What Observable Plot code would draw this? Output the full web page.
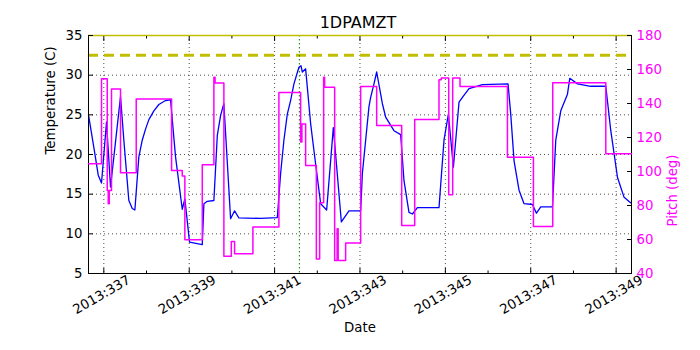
<!DOCTYPE html>
<html><head><meta charset="utf-8">
<script src="https://cdn.jsdelivr.net/npm/d3@7"></script>
<script src="https://cdn.jsdelivr.net/npm/@observablehq/plot@0.6"></script>
<style>
body{margin:0;background:#fff;}
#wrap{position:relative;width:700px;height:350px;font-family:"DejaVu Sans",sans-serif;overflow:hidden;}
#wrap svg{position:absolute;left:0;top:0;}
#title{position:absolute;left:258px;width:200px;top:13px;text-align:center;font-size:16px;line-height:normal;color:#000;z-index:5;}
</style></head>
<body>
<div id="wrap"><div id="title">1DPAMZT</div></div>
<script>
// ---- data ----
const tempDays = [336.641,336.766,336.869,336.946,337.063,337.157,337.391,337.469,337.586,337.666,337.727,337.820,337.900,337.977,338.055,338.172,338.289,338.446,338.563,338.680,338.837,338.898,339.008,339.306,339.344,339.423,339.578,339.658,339.735,339.789,339.812,339.969,340.063,340.164,340.672,341.064,341.141,341.218,341.298,341.375,341.453,341.570,341.617,341.650,341.727,341.844,341.961,342.079,342.219,342.376,342.564,342.742,343.016,343.056,343.133,343.210,343.250,343.328,343.391,343.525,343.602,343.796,343.953,344.031,344.148,344.228,344.345,344.851,344.968,345.071,345.188,345.320,345.399,345.554,345.868,346.468,346.531,346.609,346.726,346.843,347.040,347.134,347.234,347.509,347.586,347.703,347.860,347.914,348.095,348.406,348.758,348.875,349.032,349.187,349.344];
const tempValues = [25.0,20.9,17.4,16.4,24.1,15.9,27.3,21.8,14.2,13.2,13.0,19.7,21.8,23.2,24.4,25.5,26.3,26.8,26.9,19.7,13.1,14.4,8.95,8.65,13.8,14.1,14.2,22.4,24.9,26.0,26.4,11.9,12.9,12.0,11.95,12.05,17.6,21.8,25.1,26.8,28.9,31.0,31.2,30.4,30.8,23.9,18.8,13.8,13.0,23.4,11.5,12.9,12.9,17.6,21.8,26.0,27.2,28.9,30.4,26.4,24.7,23.0,22.5,16.7,12.7,12.5,13.3,13.3,21.8,25.1,18.4,26.6,27.2,28.3,28.8,28.9,25.1,19.2,15.5,13.8,13.7,12.6,13.4,13.4,21.8,25.5,27.6,29.6,28.9,28.6,28.6,23.0,17.1,14.6,13.9];

const pitchDays = [336.641,336.946,337.080,337.103,337.127,337.180,337.391,337.759,338.587,338.837,338.898,339.306,339.578,339.606,339.812,339.986,340.063,340.492,341.101,341.610,341.640,341.727,341.978,342.055,342.149,342.172,342.407,342.465,342.489,342.664,343.016,343.391,343.977,344.282,344.851,344.903,345.079,345.172,345.343,346.454,347.063,347.515,348.758,349.36];
const pitchValues = [104.5,154.5,88.8,81,88.8,148.6,99.2,142.7,100.6,97.3,59.8,103.9,155.5,152,50.2,58.8,51.6,67.3,146.5,117.3,128,103.5,48.6,81.6,155.5,149.6,47.6,66.3,47.6,58,150,127,68.2,130.6,154,155,86.3,155,150,108.4,67.6,152.2,110.4,110.4];

const majorDays = [337,339,341,343,345,347,349];
const minorDays = [338,340,342,344,346,348];
const tempTicks = [5,10,15,20,25,30,35];
const pitchTicks = [40,60,80,100,120,140,160,180];
const tempLimitDashed = 32.5;
const tempLimitSolid = 35;
const eventDay = 341.58;
const xDomain = [336.641, 349.36];

const tempData = tempDays.map((d,i)=>({day:d, temp:tempValues[i]}));
const pitchData = pitchDays.map((d,i)=>({day:d, pitch:pitchValues[i]}));

const common = {
  width:700, height:350, marginLeft:88, marginRight:69, marginTop:35, marginBottom:77,
  style:{fontFamily:"DejaVu Sans, sans-serif", fontSize:"13.3px", background:"transparent", overflow:"visible"}
};

const plotA = Plot.plot({
  ...common,
  x:{domain:xDomain, axis:null},
  y:{domain:[5,35], axis:null},
  marks:[
    Plot.gridX(majorDays, {stroke:"black", strokeOpacity:1, strokeWidth:0.7, strokeDasharray:"1,3"}),
    Plot.gridY(tempTicks, {stroke:"black", strokeOpacity:1, strokeWidth:0.7, strokeDasharray:"1,3"}),
    Plot.ruleY([tempLimitDashed], {stroke:"#bfbf00", strokeWidth:3, strokeDasharray:"10,6"}),
    Plot.ruleX([eventDay], {stroke:"#008000", strokeWidth:1, strokeDasharray:"1.5,2.5"}),
    Plot.line(tempData, {x:"day", y:"temp", stroke:"#0000ff", strokeWidth:1.3}),
    Plot.frame({stroke:"black"}),
    Plot.ruleY([tempLimitSolid], {stroke:"#bfbf00", strokeWidth:1.5}),
    Plot.axisX({ticks:majorDays, anchor:"bottom", tickSize:-5, tickFormat:()=>"", label:null}),
    Plot.axisX({ticks:minorDays, anchor:"bottom", tickSize:-2.5, tickFormat:()=>"", label:null}),
    Plot.axisX({ticks:majorDays, anchor:"top", tickSize:-5, tickFormat:()=>"", label:null}),
    Plot.axisX({ticks:minorDays, anchor:"top", tickSize:-2.5, tickFormat:()=>"", label:null}),
    Plot.axisY({ticks:tempTicks, anchor:"left", tickSize:-5, tickPadding:11, label:null, fontSize:13.3}),
    Plot.text(majorDays, {x:d=>d, text:d=>"2013:"+d, frameAnchor:"bottom", dy:25, rotate:-30, fontSize:13.3, fill:"black"}),
    Plot.text(["Date"], {text:d=>d, frameAnchor:"bottom", dy:58, fontSize:13.3, fill:"black"}),
    Plot.text(["Temperature (C)"], {text:d=>d, frameAnchor:"left", dx:-38, rotate:-90, fontSize:13.3, fill:"black"})
  ]
});

const plotB = Plot.plot({
  ...common,
  x:{domain:xDomain, axis:null},
  y:{domain:[40,180], axis:null},
  marks:[
    Plot.line(pitchData, {x:"day", y:"pitch", curve:"step-after", stroke:"#ff00ff", strokeWidth:1.5}),
    Plot.axisY({ticks:pitchTicks, anchor:"right", tickSize:-5, tickPadding:10, label:null, fill:"#ff00ff", stroke:"black", fontSize:13.3}),
    Plot.text(["Pitch (deg)"], {text:d=>d, frameAnchor:"right", dx:41, rotate:-90, fontSize:13.3, fill:"#ff00ff"})
  ]
});

const wrap = document.getElementById("wrap");
wrap.insertBefore(plotA, wrap.firstChild);
wrap.insertBefore(plotB, document.getElementById("title"));
</script>
</body></html>
